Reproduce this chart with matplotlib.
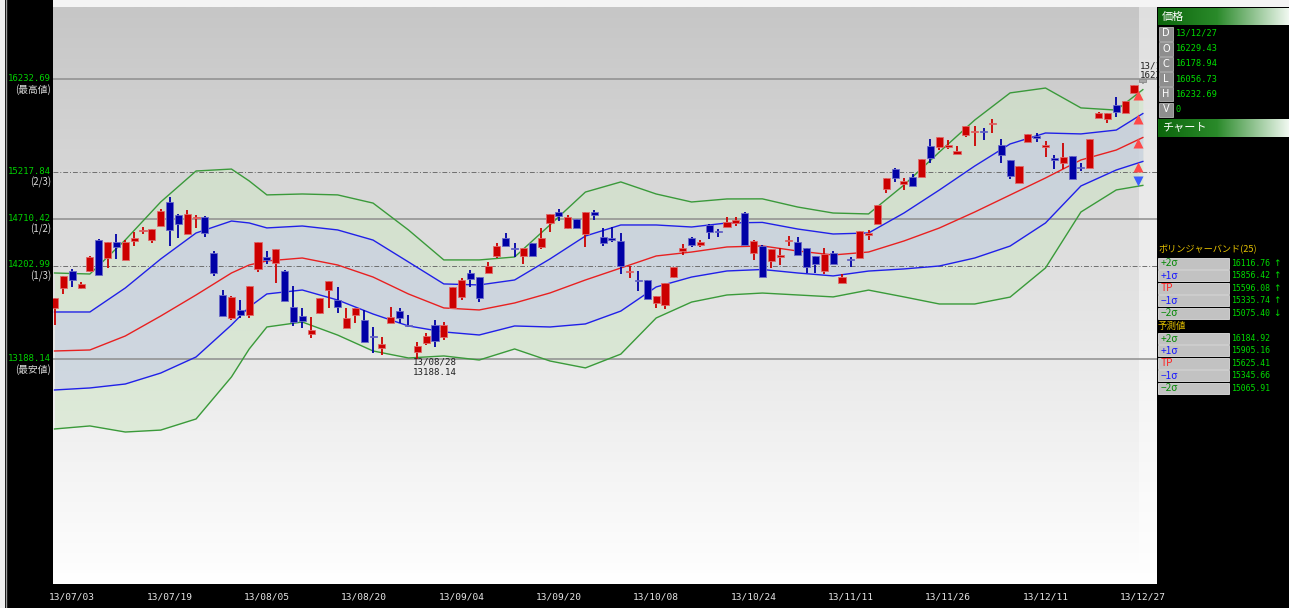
import matplotlib
matplotlib.use('Agg')
import matplotlib.pyplot as plt
import numpy as np
from matplotlib.patches import Rectangle
from matplotlib.colors import LinearSegmentedColormap

# ---------------- data ----------------
opens = [13743, 13960, 14145, 13960, 14145, 14482, 14286, 14460, 14264, 14471,
         14580, 14482, 14634, 14895, 14754, 14547, 14716, 14732, 14340, 13884,
         13634, 13721, 13666, 14167, 14297, 14232, 14145, 13753, 13655, 13460,
         13688, 13938, 13830, 13525, 13666, 13612, 13439, 13308, 13579, 13710,
         13558, 13264, 13362, 13558, 13428, 13743, 13862, 14123, 14079, 14123,
         14308, 14504, 14395, 14308, 14449, 14406, 14667, 14786, 14612, 14710,
         14547, 14786, 14514, 14504, 14471, 14134, 14047, 14047, 13797, 13775,
         14079, 14362, 14504, 14427, 14645, 14580, 14623, 14667, 14775, 14340,
         14417, 14254, 14297, 14466, 14460, 14395, 14308, 14145, 14340, 14014,
         14275, 14286, 14536, 14656, 15036, 15254, 15091, 15167, 15167, 15504,
         15493, 15498, 15417, 15623, 15651, 15661, 15738, 15515, 15352, 15102,
         15547, 15613, 15498, 15373, 15319, 15395, 15276, 15265, 15808, 15797,
         15950, 15863, 16080]
highs = [13851, 14090, 14167, 14025, 14308, 14493, 14460, 14547, 14482, 14569,
         14623, 14601, 14819, 14949, 14764, 14808, 14754, 14743, 14362, 13938,
         13873, 13830, 13982, 14460, 14362, 14384, 14156, 13982, 13743, 13644,
         13851, 14036, 13971, 13743, 13743, 13721, 13536, 13428, 13753, 13743,
         13666, 13373, 13471, 13612, 13590, 13971, 14069, 14156, 14079, 14243,
         14449, 14558, 14449, 14395, 14449, 14612, 14764, 14819, 14754, 14710,
         14786, 14808, 14612, 14623, 14558, 14199, 14145, 14047, 13873, 14014,
         14188, 14438, 14514, 14482, 14656, 14601, 14732, 14732, 14786, 14482,
         14427, 14384, 14395, 14525, 14514, 14395, 14308, 14395, 14362, 14112,
         14297, 14580, 14590, 14862, 15156, 15265, 15156, 15200, 15363, 15580,
         15602, 15569, 15504, 15721, 15721, 15699, 15797, 15580, 15352, 15286,
         15634, 15645, 15558, 15406, 15536, 15395, 15319, 15580, 15874, 15863,
         16037, 15993, 16167]
lows = [13558, 13895, 13971, 13949, 14134, 14101, 14177, 14275, 14264, 14417,
        14547, 14449, 14634, 14417, 14504, 14547, 14612, 14514, 14090, 13655,
        13612, 13634, 13634, 14134, 14221, 14014, 13819, 13547, 13525, 13416,
        13677, 13743, 13688, 13525, 13579, 13373, 13253, 13231, 13579, 13579,
        13536, 13188.14, 13340, 13319, 13394, 13743, 13830, 13971, 13808, 14123,
        14286, 14417, 14297, 14221, 14308, 14384, 14569, 14688, 14601, 14612,
        14406, 14699, 14417, 14460, 14112, 14069, 13927, 13840, 13743, 13732,
        14069, 14319, 14406, 14406, 14493, 14514, 14623, 14634, 14427, 14264,
        14079, 14177, 14210, 14417, 14319, 14123, 14123, 14112, 14221, 14014,
        14188, 14286, 14482, 14656, 14993, 15112, 15025, 15069, 15167, 15319,
        15460, 15471, 15417, 15602, 15504, 15569, 15645, 15319, 15145, 15102,
        15547, 15547, 15384, 15254, 15254, 15145, 15232, 15265, 15808, 15754,
        15819, 15863, 16080]
closes = [13851, 14090, 14047, 14003, 14297, 14101, 14460, 14406, 14460, 14504,
          14590, 14601, 14797, 14590, 14656, 14764, 14721, 14558, 14123, 13655,
          13862, 13666, 13982, 14460, 14264, 14384, 13819, 13590, 13601, 13503,
          13851, 14036, 13753, 13634, 13743, 13373, 13428, 13351, 13644, 13634,
          13547, 13330, 13439, 13384, 13558, 13971, 14047, 14058, 13851, 14199,
          14417, 14417, 14384, 14395, 14308, 14504, 14764, 14743, 14732, 14612,
          14786, 14754, 14449, 14482, 14199, 14145, 14036, 13840, 13873, 14014,
          14188, 14395, 14427, 14460, 14569, 14569, 14678, 14699, 14427, 14471,
          14079, 14384, 14319, 14476, 14319, 14188, 14221, 14329, 14221, 14079,
          14264, 14580, 14558, 14862, 15156, 15156, 15123, 15069, 15363, 15373,
          15602, 15504, 15449, 15721, 15656, 15656, 15743, 15406, 15178, 15286,
          15634, 15591, 15504, 15352, 15384, 15145, 15265, 15580, 15863, 15863,
          15874, 15993, 16167]

# today's (incomplete) candle, drawn grey
today_open, today_high, today_low, today_close = 16229.43, 16232.69, 16178.94, 16200.0

# Bollinger band (25) read at sample positions
band_idx = [0, 4, 8, 12, 16, 20, 22, 24, 28, 32, 36, 40, 44, 48, 52, 56, 60, 64,
            68, 72, 76, 80, 84, 88, 92, 96, 100, 104, 108, 112, 116, 120, 123]
tp = [13275, 13286, 13438, 13655, 13884, 14123, 14210, 14254, 14286, 14210, 14079,
      13895, 13743, 13721, 13797, 13906, 14047, 14177, 14308, 14351, 14406, 14417,
      14362, 14319, 14351, 14471, 14612, 14786, 14971, 15156, 15352, 15460, 15596.08]
sigma = [424, 413, 522, 620, 674, 565, 457, 359, 348, 381, 402, 348, 261, 272, 250,
         370, 478, 468, 337, 272, 261, 256, 239, 228, 207, 304, 413, 500, 555, 489,
         283, 217, 260.34]

tick_idx = [2, 13, 24, 35, 46, 57, 68, 79, 90, 101, 112, 123]
tick_labels = ['13/07/03', '13/07/19', '13/08/05', '13/08/20', '13/09/04', '13/09/20',
               '13/10/08', '13/10/24', '13/11/11', '13/11/26', '13/12/11', '13/12/27']

level_values = [16232.69, 15217.84, 14710.42, 14202.99, 13188.14]
level_texts = ['16232.69', '15217.84', '14710.42', '14202.99', '13188.14']
level_subs = ['(最高値)', '(2/3)', '(1/2)', '(1/3)', '(最安値)']
level_solid = [True, False, True, False, True]

low_date, low_text = '13/08/28', '13188.14'
high_date, high_text = '13/12/27', '16232.69'

price_keys = ['D', 'O', 'C', 'L', 'H', 'V']
price_vals = ['13/12/27', '16229.43', '16178.94', '16056.73', '16232.69', '0']

bb_keys = ['+2σ', '+1σ', 'TP', '−1σ', '−2σ']
bb_key_colors = ['#0a8a0a', '#1a1aff', '#ff2020', '#1a1aff', '#0a8a0a']
bb_vals = ['16116.76', '15856.42', '15596.08', '15335.74', '15075.40']
bb_arrows = ['↑', '↑', '↑', '↑', '↓']
fc_vals = ['16184.92', '15905.16', '15625.41', '15345.66', '15065.91']

# ---------------- figure ----------------
W, H = 1289, 608
fig = plt.figure(figsize=(W / 100, H / 100), dpi=100, facecolor='black')
JP = ['Noto Sans CJK JP', 'DejaVu Sans']
MONO = 'DejaVu Sans Mono'

ov = fig.add_axes([0, 0, 1, 1], zorder=3)
ov.set_xlim(0, W)
ov.set_ylim(H, 0)
ov.axis('off')

ax = fig.add_axes([53 / W, 1 - 584 / H, (1157 - 53) / W, (584 - 7) / H], zorder=2)
ax.set_facecolor('white')

# background gradient
bg_cmap = LinearSegmentedColormap.from_list('bg', ['#ffffff', '#c6c6c6'])
grad = np.linspace(0, 1, 256).reshape(-1, 1)
ax.imshow(grad, extent=[0, 1, 0, 1], transform=ax.transAxes, aspect='auto',
          cmap=bg_cmap, origin='lower', zorder=0)

xi = np.arange(len(opens))
bi = np.array(band_idx, dtype=float)
tpa = np.array(tp)
sga = np.array(sigma)

ax.axvspan(122.6, 125, color='white', alpha=0.45, lw=0, zorder=0.5)

ax.fill_between(bi, tpa - 2 * sga, tpa + 2 * sga, color='#cfe6c6', alpha=0.55, lw=0, zorder=1)
ax.fill_between(bi, tpa - sga, tpa + sga, color='#c4c8ea', alpha=0.5, lw=0, zorder=1.1)

for v, solid in zip(level_values, level_solid):
    if solid:
        ax.axhline(v, color='#8e8e8e', lw=1.1, zorder=1.3)
    else:
        ax.axhline(v, color='#6e6e6e', lw=0.7, ls=(0, (5, 2, 1, 2)), zorder=1.3)

ax.plot(bi, tpa + 2 * sga, color='#3a9a3a', lw=1.0, zorder=2)
ax.plot(bi, tpa - 2 * sga, color='#3a9a3a', lw=1.0, zorder=2)
ax.plot(bi, tpa + sga, color='#2020e8', lw=1.0, zorder=2)
ax.plot(bi, tpa - sga, color='#2020e8', lw=1.0, zorder=2)
ax.plot(bi, tpa, color='#e82020', lw=1.0, zorder=2)

# candles
for i in xi:
    o, h, l, c = opens[i], highs[i], lows[i], closes[i]
    if c >= o:
        fc, ec = '#cc0000', '#e06a6a'
    else:
        fc, ec = '#0000a6', '#6a6ac8'
    ax.vlines(i, l, h, color=fc, lw=1.3, zorder=3)
    bottom = min(o, c)
    height = max(abs(c - o), 14)
    ax.add_patch(Rectangle((i - 0.4, bottom), 0.8, height, facecolor=fc,
                           edgecolor=ec, lw=0.6, zorder=4))

ti = 123
ax.vlines(ti, today_low, today_high, color='#9a9a9a', lw=1.3, zorder=3)
ax.add_patch(Rectangle((ti - 0.4, today_close), 0.8, today_high - today_close,
                       facecolor='#a8a8a8', edgecolor='#8a8a8a', lw=0.6, zorder=4))

# direction triangles
for v, a in zip(bb_vals, bb_arrows):
    v = float(v)
    if a == '↑':
        ax.plot(122.45, v - 55, marker='^', ms=7.5, color='#ff4848', mec='none', zorder=5)
    else:
        ax.plot(122.45, v + 48, marker='v', ms=7.5, color='#3c5cff', mec='none', zorder=5)

# annotations
low_i = int(np.argmin(lows))
ax.annotate(low_date, xy=(low_i, min(lows)), xytext=(-3, -2), textcoords='offset points',
            ha='left', va='center', fontsize=6.6, family=MONO, color='#202020', zorder=6)
ax.annotate(low_text, xy=(low_i, min(lows)), xytext=(-3, -9.5), textcoords='offset points',
            ha='left', va='center', fontsize=6.6, family=MONO, color='#202020', zorder=6)
ax.annotate(high_date, xy=(ti, today_high), xytext=(-2, 9.5), textcoords='offset points',
            ha='left', va='center', fontsize=6.6, family=MONO, color='#202020', zorder=6,
            annotation_clip=False, clip_on=True)
ax.annotate(high_text, xy=(ti, today_high), xytext=(-2, 2.5), textcoords='offset points',
            ha='left', va='center', fontsize=6.6, family=MONO, color='#202020', zorder=6,
            annotation_clip=False, clip_on=True)

# left level labels
for v, t, s in zip(level_values, level_texts, level_subs):
    ax.annotate(t, xy=(0, v), xycoords=('axes fraction', 'data'), xytext=(-1.5, 0.5),
                textcoords='offset points', ha='right', va='center', fontsize=6.5,
                family=MONO, color='#00d000', annotation_clip=False)
    ax.annotate(s, xy=(0, v), xycoords=('axes fraction', 'data'), xytext=(-1.5, -7.5),
                textcoords='offset points', ha='right', va='center', fontsize=7,
                family=JP, color='#d8d8d8', annotation_clip=False)

ax.set_xlim(-0.17, 124.6)
ax.set_ylim(10741.5, 17015)
ax.set_yticks([])
ax.set_xticks(tick_idx)
ax.set_xticklabels(tick_labels, fontsize=6.8, family=MONO, color='#e6e6e6')
ax.tick_params(axis='x', length=0, pad=6)
for sp in ax.spines.values():
    sp.set_visible(False)

# ---------------- frame & right panel ----------------
ov.add_patch(Rectangle((0, 0), 5, H, facecolor='#eeeeee', edgecolor='none'))
ov.plot([5.5, 5.5], [0, H], color='#9a9a9a', lw=1)
ov.add_patch(Rectangle((53, 0), W - 53, 7, facecolor='#f4f4f4', edgecolor='none'))

hdr_cmap = LinearSegmentedColormap.from_list('hdr', [(0, '#0c660c'), (0.45, '#2a8a2a'), (1, '#f0f8f0')])
hgrad = np.linspace(0, 1, 256).reshape(1, -1)
for (y0, y1, txt) in [(8, 25, '価格'), (119, 137, 'チャート')]:
    ov.imshow(hgrad, extent=[1158, 1289, y1, y0], aspect='auto', cmap=hdr_cmap, zorder=1)
    ov.text(1162, (y0 + y1) / 2, txt, ha='left', va='center', fontsize=8, family=JP,
            color='white', zorder=2)

for k, (key, val) in enumerate(zip(price_keys, price_vals)):
    y = 33.5 + 15.2 * k
    ov.add_patch(Rectangle((1159, y - 7), 14, 14, facecolor='#8e8e8e', edgecolor='#b4b4b4',
                           lw=0.6, zorder=1))
    ov.text(1166, y, key, ha='center', va='center', fontsize=7, color='white', zorder=2)
    ov.text(1176, y, val, ha='left', va='center', fontsize=6.2, family=MONO,
            color='#00dc00', zorder=2)

ov.text(1158, 249, 'ボリンジャーバンド(25)', ha='left', va='center', fontsize=6.6, family=JP,
        color='#e6c200', zorder=2)
ov.text(1158, 326.5, '予測値', ha='left', va='center', fontsize=6.8, family=JP,
        color='#e6c200', zorder=2)


def bb_rows(y0, vals, arrows):
    for k, (key, kc, val) in enumerate(zip(bb_keys, bb_key_colors, vals)):
        y = y0 + 12.4 * k
        ov.add_patch(Rectangle((1158, y - 5.6), 71, 11.2, facecolor='#c2c2c2',
                               edgecolor='#e2e2e2', lw=0.6, zorder=1))
        ov.text(1161, y, key, ha='left', va='center', fontsize=7.3, family=JP,
                color=kc, zorder=2)
        ov.text(1232, y, val, ha='left', va='center', fontsize=5.9, family=MONO,
                color='#00dc00', zorder=2)
        if arrows is not None:
            ov.text(1277, y, arrows[k], ha='center', va='center', fontsize=6.5,
                    family='DejaVu Sans', color='#00dc00', zorder=2)


bb_rows(263.5, bb_vals, bb_arrows)
bb_rows(338.5, fc_vals, None)

ov.set_xlim(0, W)
ov.set_ylim(H, 0)

fig.savefig('out.png', dpi=100, facecolor='black')
